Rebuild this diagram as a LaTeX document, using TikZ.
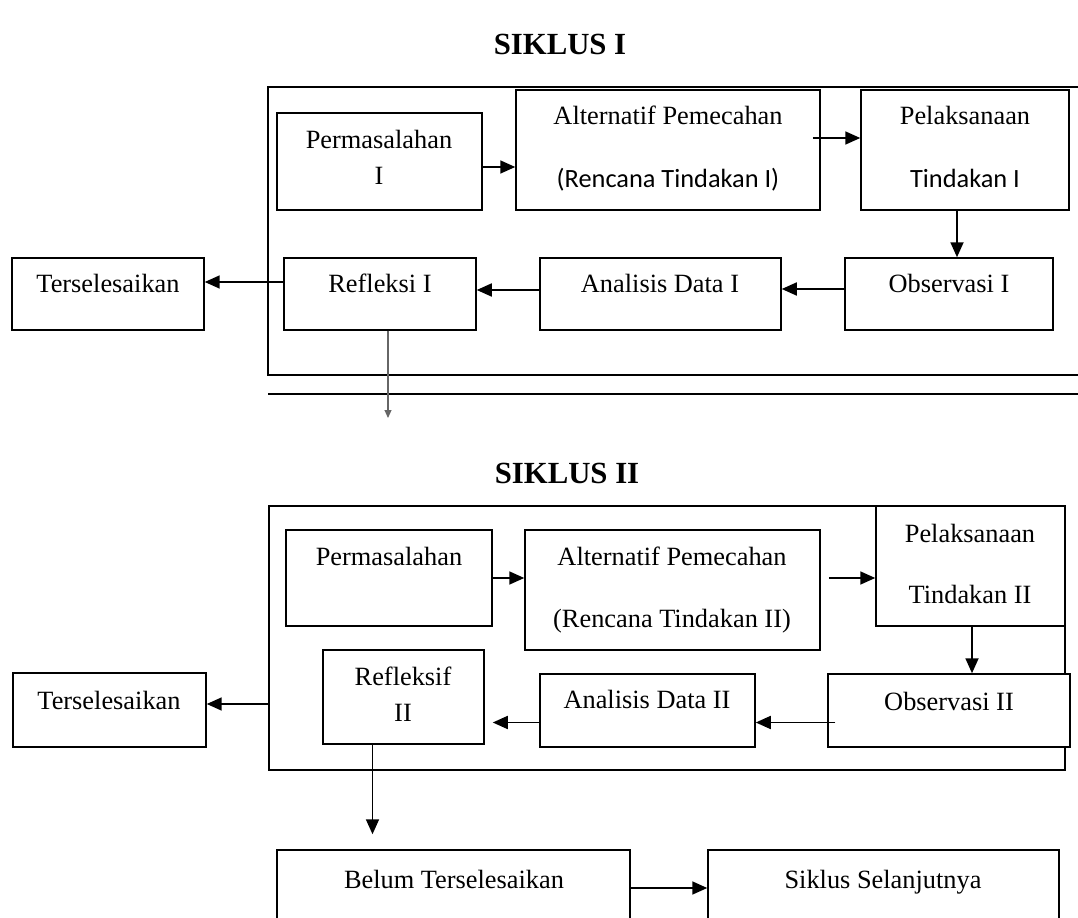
\documentclass[tikz,border=0pt]{standalone}
\usepackage{fontspec}
\setmainfont{Liberation Serif}
\newfontfamily\calibri{Carlito}
\usetikzlibrary{arrows.meta,fit,calc}

\tikzset{
  box/.style={draw, fill=white, line width=0.85pt, inner sep=0pt},
  txt/.style={inner sep=0pt, anchor=base, font=\fontsize{15}{18}\selectfont},
  ttl/.style={inner sep=0pt, anchor=base, font=\fontsize{17.5}{21}\selectfont\bfseries},
  arr/.style={-{Triangle[length=0.3cm,width=0.26cm]}, line width=1pt},
  tipis/.style={-{Triangle[length=0.16cm,width=0.14cm]}, line width=0.6pt, draw=black!60, fill=black!60}
}

\begin{document}
\begin{tikzpicture}[x=0.02cm,y=-0.02cm]
\useasboundingbox (0,0) rectangle (1078,918);
\clip (0,0) rectangle (1078,918);

% siklus I
\node[ttl] (judul1) at (560,55) {SIKLUS I};
\draw[line width=0.85pt] (1090,87) -- (268,87) -- (268,375) -- (1090,375);
\draw[line width=0.85pt] (268,394) -- (1090,394);

\node[box, fit={(277,113) (482,210)}] (perm1) {};
\node[box, fit={(516,90) (820,210)}] (alt1) {};
\node[box, fit={(861,90) (1069,210)}] (pel1) {};
\node[box, fit={(12,258) (204,330)}] (ters1) {};
\node[box, fit={(284,258) (476,330)}] (ref1) {};
\node[box, fit={(540,258) (781,330)}] (ana1) {};
\node[box, fit={(845,258) (1053,330)}] (obs1) {};

\node[txt] (perm1a) at (379,149) {Permasalahan};
\node[txt] (perm1b) at (379,185) {I};
\node[txt] (alt1a) at (668,125) {Alternatif Pemecahan};
\node[txt, font=\fontsize{15}{18}\selectfont\calibri] (alt1b) at (668,188) {(Rencana Tindakan I)};
\node[txt] (pel1a) at (965,125) {Pelaksanaan};
\node[txt, font=\fontsize{15}{18}\selectfont\calibri] (pel1b) at (965,188) {Tindakan I};
\node[txt] (ters1a) at (108,293) {Terselesaikan};
\node[txt] (ref1a) at (380,293) {Refleksi I};
\node[txt] (ana1a) at (660,293) {Analisis Data I};
\node[txt] (obs1a) at (949,293) {Observasi I};

\draw[arr] ($(perm1.east)+(0,5.5)$) -- ($(alt1.west)+(0,17)$);
\draw[arr] ($(alt1.east)+(-8,-12)$) -- ($(pel1.west)+(0,-12)$);
\draw[arr] ($(pel1.south)+(-8,0)$) -- ($(pel1.south |- obs1.north)+(-8,0)$);
\draw[arr] ($(obs1.west)+(0,-5)$) -- ($(obs1.west -| ana1.east)+(0,-5)$);
\draw[arr] ($(ana1.west)+(0,-4)$) -- ($(ana1.west -| ref1.east)+(0,-4)$);
\draw[arr] ($(ref1.west)+(0,-12)$) -- ($(ref1.west -| ters1.east)+(0,-12)$);
\coordinate (turun1) at (388,418);
\draw[tipis] ($(ref1.south)+(8,0)$) -- (turun1);

% siklus II
\node[ttl] (judul2) at (567,483) {SIKLUS II};
\node[box, fit={(269,506) (1065,770)}] (frame2) {};

\node[box, fit={(286,530) (492,626)}] (perm2) {};
\node[box, fit={(525,530) (820,650)}] (alt2) {};
\node[box, fit={(876,506) (1065,626)}] (pel2) {};
\node[box, fit={(828,674) (1070,747)}] (obs2) {};
\node[box, fit={(540,674) (755,747)}] (ana2) {};
\node[box, fit={(323,650) (484,744)}] (ref2) {};
\node[box, fit={(13,673) (206,747)}] (ters2) {};
\node[box, fit={(277,850) (630,926)}] (belum) {};
\node[box, fit={(708,850) (1059,926)}] (siklus) {};

\node[txt] (perm2a) at (389,565) {Permasalahan};
\node[txt] (alt2a) at (672,565) {Alternatif Pemecahan};
\node[txt] (alt2b) at (672,627) {(Rencana Tindakan II)};
\node[txt] (pel2a) at (970,542) {Pelaksanaan};
\node[txt] (pel2b) at (970,603) {Tindakan II};
\node[txt] (obs2a) at (949,710) {Observasi II};
\node[txt] (ana2a) at (647,708) {Analisis Data II};
\node[txt] (ref2a) at (403,685) {Refleksif};
\node[txt] (ref2b) at (403,721) {II};
\node[txt] (ters2a) at (109,709) {Terselesaikan};
\node[txt] (belum1) at (454,888) {Belum Terselesaikan};
\node[txt] (siklus1) at (883,888) {Siklus Selanjutnya};

\draw[arr] (perm2.east) -- ($(alt2.west)+(0,-12)$);
\draw[arr] ($(alt2.east)+(8,-12)$) -- ($(pel2.west)+(0,12)$);
\draw[arr] ($(pel2.south)+(1.5,0)$) -- ($(pel2.south |- obs2.north)+(1.5,0)$);
\draw[arr] ($(obs2.west)+(8,12)$) -- ($(obs2.west -| ana2.east)+(0,12)$);
\draw[arr] ($(ana2.west)+(0,12)$) -- ($(ana2.west -| ref2.east)+(8,12)$);
\draw[arr] ($(ters2.east -| frame2.west)+(0,-6)$) -- ($(ters2.east)+(0,-6)$);
\draw[arr] ($(ref2.south)+(-31,0)$) -- ($(ref2.south |- belum.north)+(-31,-15)$);
\draw[arr] (belum.east) -- (siklus.west);
\end{tikzpicture}
\end{document}
